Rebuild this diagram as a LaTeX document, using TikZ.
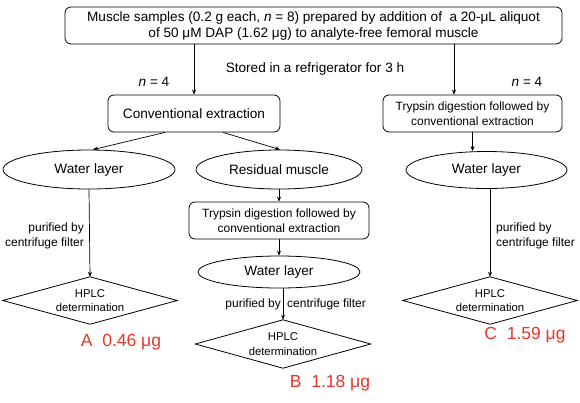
\documentclass[tikz,border=0pt]{standalone}
\usepackage{fontspec}
\setmainfont{Liberation Sans}
\usetikzlibrary{shapes.geometric,arrows.meta}
\definecolor{resred}{RGB}{235,52,40}
\begin{document}
\begin{tikzpicture}[x=1pt,y=-1pt,
  every node/.style={inner sep=0pt, font=\fontsize{13.6}{16}\selectfont},
  rbox/.style={draw, rounded corners=6pt, align=center, line width=0.8pt},
  sbox/.style={rbox, font=\fontsize{12}{15}\selectfont},
  oval/.style={draw, ellipse, line width=0.8pt},
  dia/.style={align=center, font=\fontsize{11.3}{14.5}\selectfont},
  dline/.style={draw, line width=0.8pt},
  note/.style={font=\fontsize{12}{15.5}\selectfont},
  res/.style={text=resred, font=\fontsize{17.5}{20}\selectfont},
  arr/.style={-{Stealth[length=5pt,width=4pt]}, line width=0.7pt}
]
\useasboundingbox (0,0) rectangle (580,402);

\node[rbox, minimum width=497pt, minimum height=37pt] (top) at (313.5,25.5)
  {Muscle samples (0.2 g each, \textit{n} = 8) prepared by addition of \ a 20-μL aliquot\\of 50 μM DAP (1.62 μg) to analyte-free femoral muscle};
\node (stored) at (315,69) {Stored in a refrigerator for 3 h};
\node (nL) at (154,82) {\textit{n} = 4};
\node (nR) at (527,82) {\textit{n} = 4};

\node[rbox, minimum width=172pt, minimum height=37pt] (conv) at (194,113.5) {Conventional extraction};
\node[sbox, minimum width=179pt, minimum height=37pt] (trypR) at (472.5,113.5) {Trypsin digestion followed by\\conventional extraction};

\node[oval, minimum width=172pt, minimum height=39pt] (waterA) at (89,169.5) {Water layer};
\node[oval, minimum width=166pt, minimum height=39pt] (resid) at (279,169.5) {Residual muscle};
\node[oval, minimum width=161pt, minimum height=37pt] (waterC) at (486.5,170) {Water layer};

\node[sbox, minimum width=180pt, minimum height=37pt] (trypB) at (279,220.5) {Trypsin digestion followed by\\conventional extraction};
\node[oval, minimum width=162pt, minimum height=32pt] (waterB) at (279,272) {Water layer};

\node[dia, minimum width=174pt, minimum height=47pt] (diaA) at (90,300.5) {HPLC\\determination};
\node[dia, minimum width=175pt, minimum height=48pt] (diaB) at (283,344) {HPLC\\determination};
\node[dia, minimum width=174pt, minimum height=47pt] (diaC) at (490,300.5) {HPLC\\determination};
\foreach \d in {diaA,diaB,diaC}
  \draw[dline] (\d.west) -- (\d.north) -- (\d.east) -- (\d.south) -- cycle;

\node[note, align=right, anchor=east] (pA) at (84,236) {purified by\\centrifuge filter};
\node[note, align=left, anchor=west] (pC) at (496,236) {purified by\\centrifuge filter};
\node[note, anchor=east] (pB1) at (281,304) {purified by};
\node[note, anchor=west] (pB2) at (287,304) {centrifuge filter};

\node[res] (resA) at (121,342) {A\ \ 0.46 μg};
\node[res] (resB) at (330,383) {B\ \ 1.18 μg};
\node[res] (resC) at (525,335) {C\ \ 1.59 μg};

\draw[arr] (top.south -| conv.north) -- (conv.north);
\draw[arr] ([xshift=-18.5pt]trypR.north |- top.south) -- ([xshift=-18.5pt]trypR.north);
\draw[arr] ([xshift=-29pt]conv.south) -- ([xshift=4pt]waterA.north);
\draw[arr] ([xshift=29pt]conv.south) -- ([xshift=1pt]resid.north);
\draw[arr] (trypR.south) -- (trypR.south |- waterC.north);
\draw[arr] (waterA.south) -- (diaA.north);
\draw[arr] (resid.south) -- (trypB.north);
\draw[arr] (trypB.south) -- (waterB.north);
\draw[arr] (waterB.south -| diaB.north) -- (diaB.north);
\draw[arr] (waterC.south -| diaC.north) -- (diaC.north);
\end{tikzpicture}
\end{document}
